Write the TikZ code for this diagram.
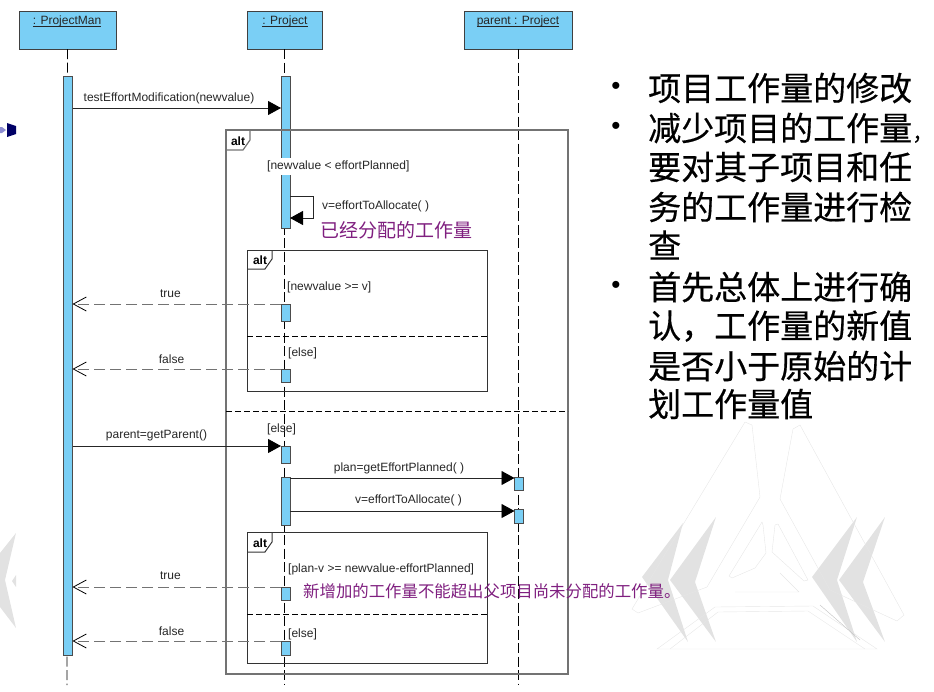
\documentclass[tikz,border=0pt]{standalone}
\usepackage{fontspec}
\setmainfont{Liberation Sans}
\newfontfamily\cjk{Noto Sans CJK SC}
\newfontfamily\cjkbig[FakeBold=0.5]{Noto Sans CJK SC}
\usepackage{xcolor}
\usetikzlibrary{arrows.meta}
\definecolor{barblue}{HTML}{7ACFF5}
\definecolor{notepurple}{HTML}{7F1F7F}
\definecolor{markgray}{HTML}{E2E2E2}
\definecolor{markline}{HTML}{E6E6E6}
\tikzset{
    headbox/.style={draw=black!75, line width=0.9pt, fill=barblue, outer sep=0pt, minimum height=38pt},
    actbar/.style={draw=black!70, line width=0.9pt, fill=barblue, outer sep=0pt, inner sep=0pt, minimum width=9pt},
    lifeline/.style={black, line width=0.8pt, dash pattern=on 10pt off 3.5pt},
    framebox/.style={line width=1pt, draw=black!80},
    outerbox/.style={line width=1.2pt, draw=black!55},
    divider/.style={black, line width=0.8pt, dash pattern=on 6pt off 3pt},
    msgarrow/.style={line width=0.9pt, black!85, -{Triangle[length=13pt, width=14pt, black]}},
    retarrow/.style={line width=1pt, black!55, dash pattern=on 11pt off 5pt, -{Straight Barb[length=13pt, width=14pt, black, line width=0.8pt]}},
    lbl/.style={font=\fontsize{12}{14}\selectfont, text=black!85, inner sep=0pt, yshift=-1pt},
    namelbl/.style={lbl, anchor=base},
    altlbl/.style={font=\fontsize{12}{14}\selectfont\bfseries, inner sep=0pt},
    notetxt/.style={font=\cjk, text=notepurple, inner sep=0pt, anchor=west},
    mainline/.style={font=\fontsize{33}{33}\selectfont\cjkbig, inner sep=0pt, anchor=west},
    dotmark/.style={font=\fontsize{26}{26}\selectfont, inner sep=0pt},
}

\begin{document}
\begin{tikzpicture}[x=1pt, y=-1pt]
    \useasboundingbox (0, 0) rectangle (934, 691);

    % watermark
    \fill [markgray] (716, 517) -- (670, 580) -- (716, 642) -- (695, 582) -- cycle;
    \fill [markgray] (683, 523) -- (642, 577) -- (688, 642) -- (668, 580) -- cycle;
    \fill [markgray] (885, 517) -- (839, 580) -- (885, 642) -- (863, 582) -- cycle;
    \fill [markgray] (857, 517) -- (812, 577) -- (857, 642) -- (837, 580) -- cycle;
    \fill [markgray] (16, 533) -- (0, 553) -- (0, 607) -- (16, 628) -- (5, 580) -- cycle;
    \fill [markgray] (12, 581) -- (16, 575) -- (16, 587) -- cycle;
    \draw [markline] (745, 422) -- (752, 425) -- (760, 497) -- (707, 587) -- (638, 613) -- (632, 609) -- cycle;
    \draw [markline] (793, 429) -- (800, 425) -- (904, 615) -- (897, 621) -- (830, 590) -- (780, 499) -- cycle;
    \draw [markline] (762, 522) -- (763, 525) -- (766, 553) -- (755, 568) -- (732, 578) -- (729, 576) -- cycle;
    \draw [markline] (775, 525) -- (778, 524) -- (808, 580) -- (804, 581) -- (772, 552) -- cycle;
    \draw [markline] (735, 592) -- (799, 592) -- (780, 573);
    \draw [markline] (657, 649) -- (715, 607) -- (813, 606) -- (877, 649) -- cycle;
    \draw [markline] (670, 649) -- (718, 612) -- (808, 611) -- (865, 649);
    \draw [black!25] (820, 605) -- (860, 640);

    % arrow mark at the left edge
    \fill [black!40!blue!45!white] (0, 127) -- (2, 127) -- (6, 130) -- (2, 133) -- (0, 133) -- cycle;
    \fill [blue!40!black] (7, 123) -- (16, 126) -- (16, 134) -- (7, 137) -- cycle;

    % heads
    \node [headbox, minimum width=97pt]  (headman)    at (67.5, 30)  {};
    \node [headbox, minimum width=75pt]  (headproj)   at (284.5, 30) {};
    \node [headbox, minimum width=108pt] (headparent) at (518, 30)   {};
    \node [namelbl] (nameman)    at (67, 23.5)  {\underline{\smash{: ProjectMan}}};
    \node [namelbl] (nameproj)   at (285, 23.5) {\underline{\smash{: Project}}};
    \node [namelbl] (nameparent) at (518, 23.5) {\underline{\smash{parent : Project}}};

    % lifelines
    \coordinate (endman)    at (67, 685);
    \coordinate (endproj)   at (284.5, 685);
    \coordinate (endparent) at (518, 685);
    \draw [lifeline] (headman.south)    -- (endman);
    \draw [lifeline] (headproj.south)   -- (endproj);
    \draw [lifeline] (headparent.south) -- (endparent);

    % bars
    \node [actbar, minimum height=579pt] (barman)  at (68, 365.5)  {};
    \node [actbar, minimum height=152pt] (barone)  at (285.5, 152) {};
    \node [actbar, minimum height=17pt]  (bartwo)  at (285.5, 312.5) {};
    \node [actbar, minimum height=13pt]  (barthr)  at (285.5, 375.5) {};
    \node [actbar, minimum height=17pt]  (barfou)  at (285.5, 454.5) {};
    \node [actbar, minimum height=48pt]  (barfiv)  at (285.5, 501)   {};
    \node [actbar, minimum height=13pt]  (barsix)  at (285.5, 593.5) {};
    \node [actbar, minimum height=14pt]  (barsev)  at (285.5, 648)   {};
    \node [actbar, minimum height=13pt]  (barpa)   at (519, 483.5)   {};
    \node [actbar, minimum height=14pt]  (barpb)   at (519, 516)     {};

    % frames
    \node [outerbox, minimum width=342pt, minimum height=544pt, outer sep=0pt] (altouter) at (397, 402) {};
    \node [framebox, minimum width=240pt, minimum height=141pt, outer sep=0pt] (altup)    at (367, 320.5) {};
    \node [framebox, minimum width=240pt, minimum height=131pt, outer sep=0pt] (altlow)   at (367, 597.5) {};
    \draw [outerbox] (226, 150) -- (243, 150) -- (250, 140) -- (250, 130);
    \draw [framebox] (247, 269) -- (265, 269) -- (272, 259) -- (272, 250);
    \draw [framebox] (247, 552) -- (265, 552) -- (272, 542) -- (272, 532);
    \node [altlbl] (altlblouter) at (238, 141) {alt};
    \node [altlbl] (altlblup)    at (260, 260) {alt};
    \node [altlbl] (altlbllow)   at (260, 543) {alt};
    \draw [divider] (altouter.west |- 0, 411) -- (altouter.east |- 0, 411);
    \draw [divider] (altup.west |- 0, 336)    -- (altup.east |- 0, 336);
    \draw [divider] (altlow.west |- 0, 614)   -- (altlow.east |- 0, 614);

    % messages
    \draw [msgarrow] (barman.east |- 0, 108) -- (barone.west |- 0, 108);
    \draw [msgarrow] (barman.east |- 0, 446) -- (barfou.north west);
    \draw [msgarrow] (barfiv.east |- 0, 478) -- (barpa.west |- 0, 478);
    \draw [msgarrow] (barfiv.east |- 0, 511) -- (barpb.west |- 0, 511);
    \draw [msgarrow] (barone.east |- 0, 196) -- (313, 196) -- (313, 218) -- (barone.east |- 0, 218);
    \draw [retarrow] (bartwo.north west) -- (barman.east |- bartwo.north);
    \draw [retarrow] (barthr.north west) -- (barman.east |- barthr.north);
    \draw [retarrow] (barsix.north west) -- (barman.east |- barsix.north);
    \draw [retarrow] (barsev.north west) -- (barman.east |- barsev.north);

    \node [lbl] (lblmod)    at (169, 97)  {testEffortModification(newvalue)};
    \node [lbl, fill=white, inner ysep=3pt, anchor=west] (lblless) at (267, 165.5) {[newvalue < effortPlanned]};
    \node [lbl, anchor=west] (lblalloc)  at (322, 205) {v=effortToAllocate( )};
    \node [lbl, anchor=west] (lblge)     at (287, 286) {[newvalue >= v]};
    \node [lbl, anchor=west] (lblelsea)  at (288, 352) {[else]};
    \node [lbl] (lbltruea)  at (170.5, 293) {true};
    \node [lbl] (lblfalsea) at (171.5, 358) {false};
    \node [lbl, anchor=west] (lblelseb)  at (267, 428) {[else]};
    \node [lbl] (lblparent) at (156.5, 434) {parent=getParent()};
    \node [lbl] (lblplan)   at (399, 467) {plan=getEffortPlanned( )};
    \node [lbl] (lblallocb) at (408.5, 499) {v=effortToAllocate( )};
    \node [lbl, anchor=west] (lblplanv)  at (288, 568) {[plan-v >= newvalue-effortPlanned]};
    \node [lbl] (lbltrueb)  at (170.5, 575) {true};
    \node [lbl, anchor=west] (lblelsec)  at (288, 633) {[else]};
    \node [lbl] (lblfalseb) at (171.5, 630) {false};

    % notes
    \node [notetxt, font=\fontsize{19}{19}\selectfont\cjk]     (noteone) at (320, 230) {已经分配的工作量};
    \node [notetxt, font=\fontsize{16.4}{16.4}\selectfont\cjk] (notetwo) at (303, 591) {新增加的工作量不能超出父项目尚未分配的工作量。};

    % text on the right
    \node [dotmark] (dotone) at (616, 88)  {•};
    \node [dotmark] (dottwo) at (616, 128) {•};
    \node [dotmark] (dotthr) at (616, 287) {•};
    \node [mainline] (lineone) at (648, 88)  {项目工作量的修改};
    \node [mainline] (linetwo) at (648, 128) {减少项目的工作量{\fontsize{21}{21}\selectfont ，}};
    \node [mainline] (linethr) at (648, 167) {要对其子项目和任};
    \node [mainline] (linefou) at (648, 207) {务的工作量进行检};
    \node [mainline] (linefiv) at (648, 245) {查};
    \node [mainline] (linesix) at (648, 287) {首先总体上进行确};
    \node [mainline] (linesev) at (648, 326) {认，工作量的新值};
    \node [mainline] (lineeig) at (648, 366) {是否小于原始的计};
    \node [mainline] (linenin) at (648, 404) {划工作量值};
\end{tikzpicture}
\end{document}
